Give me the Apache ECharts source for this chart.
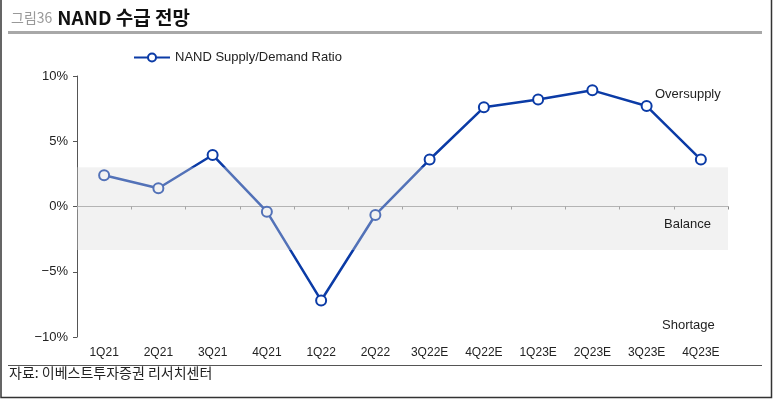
<!DOCTYPE html>
<html>
<head>
<meta charset="utf-8">
<script src="https://cdn.jsdelivr.net/npm/echarts@6/dist/echarts.min.js"></script>
<style>
  html, body { margin: 0; padding: 0; background: #fff; }
  #chart { width: 773px; height: 399px; }
</style>
</head>
<body>
<div id="chart"></div>
<script>
// quarters, E = estimate
const categories = ['1Q21', '2Q21', '3Q21', '4Q21', '1Q22', '2Q22', '3Q22E', '4Q22E', '1Q23E', '2Q23E', '3Q23E', '4Q23E'];
const ratio = [2.4, 1.4, 3.95, -0.4, -7.2, -0.65, 3.6, 7.6, 8.2, 8.9, 7.7, 3.6];
const balanceBand = [3.0, -3.33];
const yTicks = { min: -10, max: 10, interval: 5 };

const chart = echarts.init(document.getElementById('chart'));
const font = 'Liberation Sans, Arial, sans-serif';
const kfont = '"Noto Sans CJK KR", sans-serif';
const blue = '#0b3ba6';

chart.setOption({
    animation: false,
    textStyle: { fontFamily: font },
    title: {
        left: 6, top: 3,
        text: '{a|그림36} {b|NAND 수급 전망}',
        textStyle: {
            rich: {
                a: { fontFamily: kfont, fontSize: 14, fontWeight: 'normal', color: '#999' },
                b: { fontFamily: kfont, fontSize: 19, fontWeight: 'bold', color: '#111' }
            }
        }
    },
    legend: {
        data: ['NAND Supply/Demand Ratio'],
        left: 128, top: 46,
        itemWidth: 36, itemHeight: 10,
        textStyle: { fontSize: 13, color: '#222', fontFamily: font }
    },
    grid: { left: 77, right: 45, top: 76, bottom: 62 },
    xAxis: [{
        type: 'category',
        data: categories,
        axisLine: { show: false, onZero: false },
        axisTick: { show: false },
        axisLabel: { fontSize: 12, color: '#222', margin: 10 }
    }, {
        type: 'category',
        data: categories,
        position: 'bottom',
        axisLine: { onZero: true, lineStyle: { color: '#a0a0a0', width: 1 } },
        axisTick: { show: true, length: 3, lineStyle: { color: '#888' } },
        axisLabel: { show: false }
    }],
    yAxis: {
        type: 'value',
        min: yTicks.min, max: yTicks.max, interval: yTicks.interval,
        axisLine: { show: true, lineStyle: { color: '#555' } },
        axisTick: { show: true, length: 4, lineStyle: { color: '#555' } },
        splitLine: { show: false },
        axisLabel: {
            fontSize: 13, color: '#222', margin: 9,
            formatter: v => (v < 0 ? '\u2212' + Math.abs(v) : v) + '%'
        }
    },
    series: [{
        name: 'NAND Supply/Demand Ratio',
        type: 'line',
        data: ratio,
        z: 2,
        symbol: 'emptyCircle',
        symbolSize: 10,
        lineStyle: { color: blue, width: 2.5 },
        itemStyle: { color: blue, borderWidth: 2.5, borderColor: blue }
    }, {
        name: 'band',
        type: 'line',
        data: [],
        z: 20,
        silent: true,
        markArea: {
            silent: true,
            z: 20,
            itemStyle: { color: 'rgba(218,218,218,0.35)' },
            data: [[{ yAxis: balanceBand[0] }, { yAxis: balanceBand[1] }]]
        }
    }],
    graphic: [
        { type: 'polyline', z: 100, shape: { points: [[1, 0], [1, 397.5], [771.5, 397.5], [771.5, 0]] }, style: { stroke: '#333', lineWidth: 1.5, fill: null } },
        { type: 'rect', z: 100, shape: { x: 8, y: 31, width: 754, height: 3 }, style: { fill: '#a8a8a8' } },
        { type: 'rect', z: 100, shape: { x: 8, y: 365, width: 754, height: 1 }, style: { fill: '#555' } },
        { type: 'text', z: 100, left: 9, top: 366, style: { text: '자료: 이베스트투자증권 리서치센터', fontFamily: kfont, fontSize: 14, fill: '#222' } },
        { type: 'text', z: 100, left: 655, top: 88, style: { text: 'Oversupply', fontFamily: font, fontSize: 13, fill: '#222' } },
        { type: 'text', z: 100, left: 664, top: 218, style: { text: 'Balance', fontFamily: font, fontSize: 13, fill: '#222' } },
        { type: 'text', z: 100, left: 662, top: 319, style: { text: 'Shortage', fontFamily: font, fontSize: 13, fill: '#222' } }
    ]
});
</script>
</body>
</html>
